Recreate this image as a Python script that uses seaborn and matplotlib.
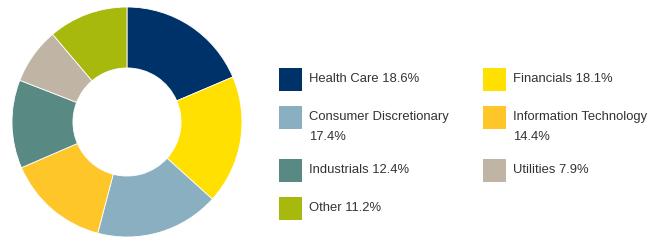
import matplotlib
matplotlib.use("Agg")
import matplotlib.pyplot as plt
import seaborn as sns
from matplotlib.patches import Rectangle

sns.set_style("white")
plt.rcParams['font.family'] = ['Liberation Sans', 'DejaVu Sans']

# Sector weights, clockwise from 12 o'clock
sectors = ["Health Care", "Financials", "Consumer Discretionary",
           "Information Technology", "Industrials", "Utilities", "Other"]
weights = [18.6, 18.1, 17.4, 14.4, 12.4, 7.9, 11.2]
colors = ["#00326a", "#ffe000", "#8aafc1", "#ffc629",
          "#588983", "#c0b4a4", "#a8b90d"]
legend_labels = ["Health Care 18.6%", "Financials 18.1%",
                 "Consumer Discretionary\n17.4%", "Information Technology\n14.4%",
                 "Industrials 12.4%", "Utilities 7.9%", "Other 11.2%"]

W, H = 665, 241
fig = plt.figure(figsize=(W / 100, H / 100), dpi=100)

# donut
cx, cy, r = 127, 122, 115
ax = fig.add_axes([(cx - r) / W, (H - cy - r) / H, 2 * r / W, 2 * r / H])
ax.pie(weights, colors=colors, startangle=90, counterclock=False, radius=1,
       wedgeprops=dict(width=0.53, edgecolor="white", linewidth=0.6))
ax.set_xlim(-1, 1)
ax.set_ylim(-1, 1)
ax.set_aspect("equal")
ax.axis("off")

# legend drawn in pixel coordinates
lax = fig.add_axes([0, 0, 1, 1])
lax.set_xlim(0, W)
lax.set_ylim(H, 0)
lax.axis("off")

col_x = [279, 483]
row_y = [68, 106, 159, 197]
for i, (lab, c) in enumerate(zip(legend_labels, colors)):
    x = col_x[i % 2]
    y = row_y[i // 2]
    lax.add_patch(Rectangle((x, y), 23, 23, facecolor=c, edgecolor="none"))
    # each line placed on its own, 20 px apart
    for k, line in enumerate(lab.split("\n")):
        lax.text(x + 30, y + 11 + 20 * k, line, fontsize=9.4, color="#333333",
                 va="center", ha="left")

fig.savefig("out.png", dpi=100)
